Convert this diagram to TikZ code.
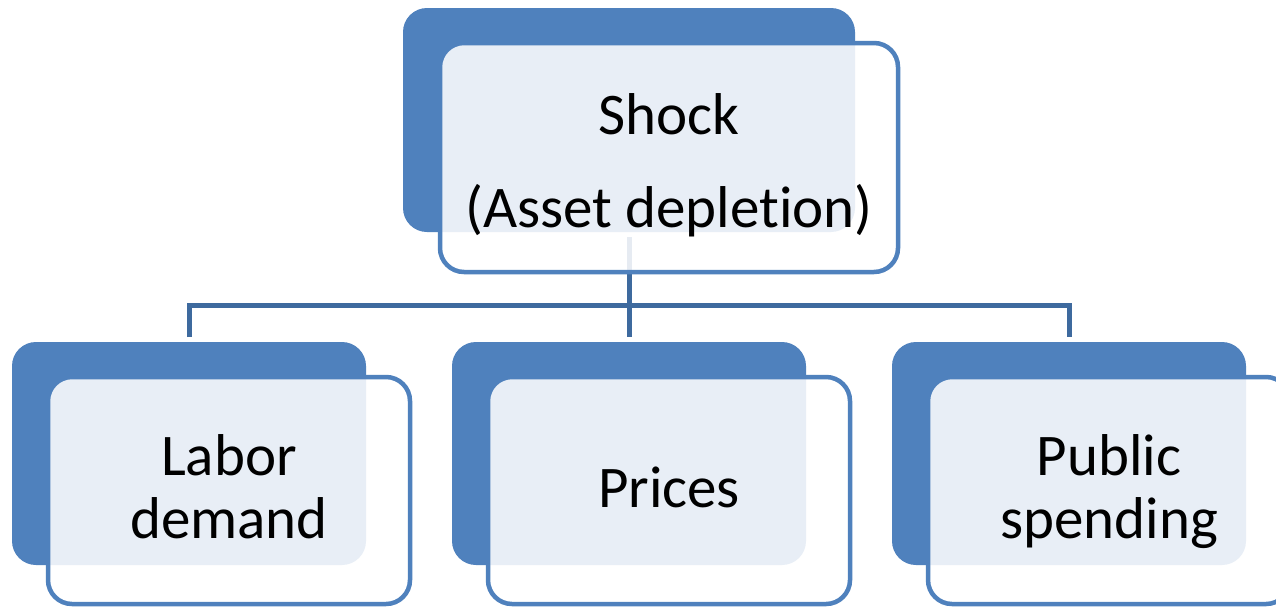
\documentclass[tikz,border=0pt]{standalone}
\usepackage{fontspec}
\setmainfont{Carlito}[Ligatures=NoCommon]
\definecolor{boxblue}{RGB}{79,129,189}
\definecolor{linkblue}{RGB}{62,106,158}
\begin{document}
\begin{tikzpicture}[x=1pt,y=-1pt,
  backbox/.style={draw=none,fill=boxblue,rounded corners=24pt,inner sep=0pt,outer sep=0pt},
  frontbox/.style={draw=boxblue,line width=4.5pt,fill=white,fill opacity=0.87,text opacity=1,rounded corners=24pt,inner sep=0pt,outer sep=0pt,minimum width=362pt,minimum height=227pt},
  smallback/.style={backbox,minimum width=354pt,minimum height=223pt},
  link/.style={draw=linkblue,line width=5pt},
  lbl/.style={inner sep=0pt,font=\fontsize{59pt}{63pt}\selectfont,anchor=base}]
\clip (0,0) rectangle (1276,606);
\fill[white] (0,0) rectangle (1276,606);
% back boxes
\node[backbox,minimum width=452pt,minimum height=224pt] (shockback) at (629,120) {};
\node[smallback] (laborback) at (189,453.5) {};
\node[smallback] (pricesback) at (629,453.5) {};
\node[smallback] (publicback) at (1069,453.5) {};
% connectors
\coordinate (bus) at (0,305);
\draw[link] ([yshift=-5pt]shockback.south) -- ([yshift=5pt]pricesback.north);
\draw[link] ([yshift=5pt]laborback.north) |- (bus -| publicback.north) -- ([yshift=5pt]publicback.north);
% front boxes
\node[frontbox,minimum width=458pt,minimum height=229pt] (shockfront) at (669,157.5) {};
\node[frontbox] (laborfront) at (229,490.5) {};
\node[frontbox] (pricesfront) at (669,490.5) {};
\node[frontbox] (publicfront) at (1109,490.5) {};
% labels
\node[lbl] (shockA) at (669,134) {Shock};
\node[lbl] (shockB) at (669,227) {(Asset deplet\kern0pt ion)};
\node[lbl] (laborA) at (229,475) {Labor};
\node[lbl] (laborB) at (229,538) {demand};
\node[lbl] (pricesA) at (669,507) {Prices};
\node[lbl] (publicA) at (1109,475) {Public};
\node[lbl] (publicB) at (1109,538) {spending};
\end{tikzpicture}
\end{document}
